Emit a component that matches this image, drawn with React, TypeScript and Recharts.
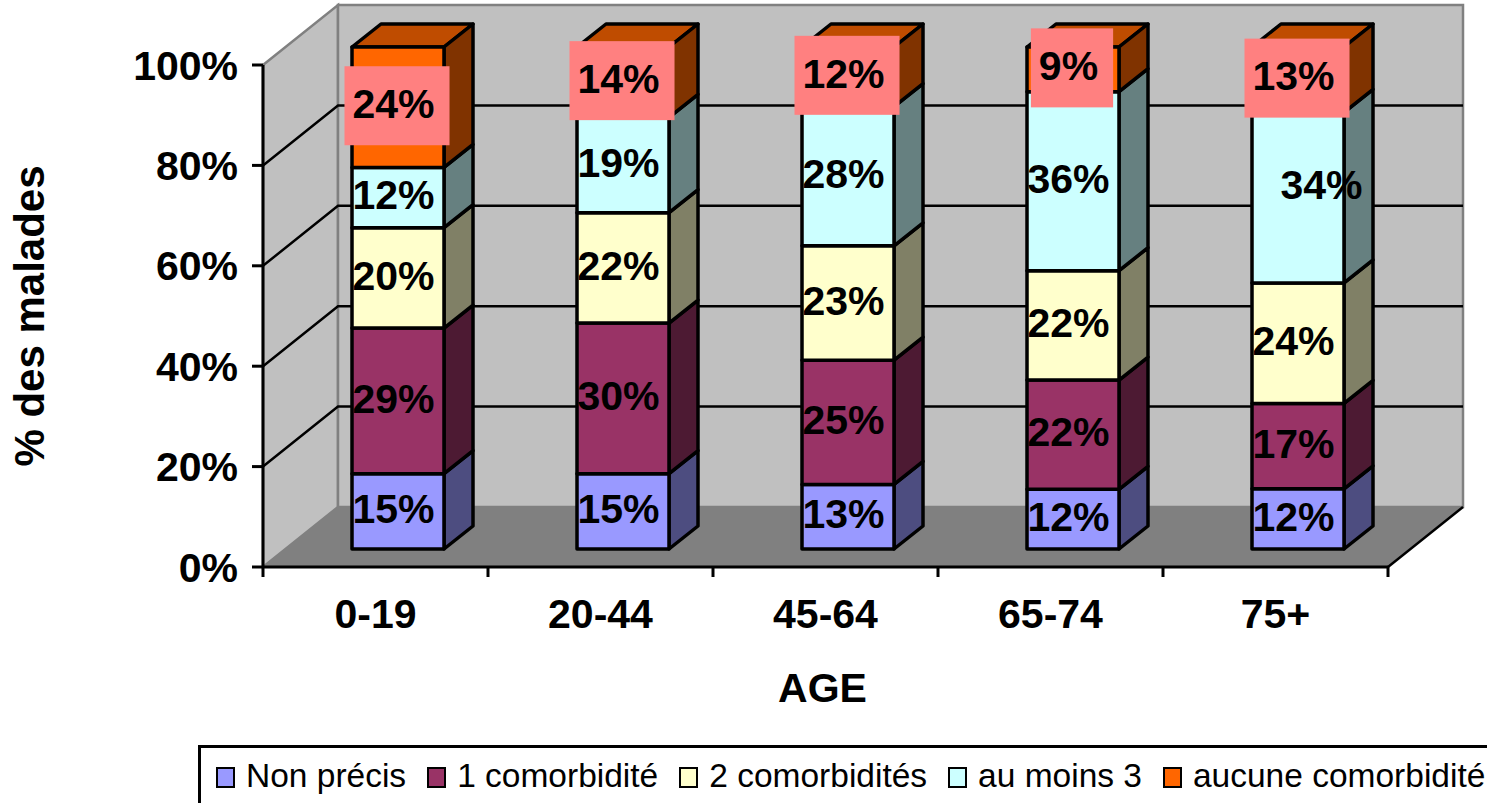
import React from "react";
import {
  Bar,
  BarChart,
  Customized,
  LabelList,
  Legend,
  XAxis,
  YAxis,
  usePlotArea,
} from "recharts";

const ageGroups = ["0-19", "20-44", "45-64", "65-74", "75+"];
const nonPrecis = [15, 15, 13, 12, 12];
const uneComorbidite = [29, 30, 25, 22, 17];
const deuxComorbidites = [20, 22, 23, 22, 24];
const auMoinsTrois = [12, 19, 28, 36, 34];
const aucuneComorbidite = [24, 14, 12, 9, 13];
const percentTicks = [0, 0.2, 0.4, 0.6, 0.8, 1];

const chartData = ageGroups.map((age, i) => ({
  age,
  nonPrecis: nonPrecis[i],
  uneComorbidite: uneComorbidite[i],
  deuxComorbidites: deuxComorbidites[i],
  auMoinsTrois: auMoinsTrois[i],
  aucuneComorbidite: aucuneComorbidite[i],
}));

const FONT = '"Liberation Sans", Arial, sans-serif';
const FONT_SIZE = 41;

// fake 3D: how far the back wall and the bars sit behind the axis plane
const WALL_DX = 75;
const WALL_DY = 60;
const BAR_DX = 22;
const BAR_DY = 18;
const BAR_DEPTH_X = 29;
const BAR_DEPTH_Y = 23;

const pts = (list: number[][]) => list.map((p) => p.join(",")).join(" ");

// walls, floor, gridlines and the category tick marks
const Backdrop = () => {
  const plot = usePlotArea();
  if (!plot) return null;
  const left = plot.x;
  const right = plot.x + plot.width;
  const top = plot.y;
  const bottom = plot.y + plot.height;
  const band = plot.width / ageGroups.length;
  return (
    <g>
      <polygon
        points={pts([
          [left, top],
          [left + WALL_DX, top - WALL_DY],
          [left + WALL_DX, bottom - WALL_DY],
          [left, bottom],
        ])}
        fill="#C0C0C0"
        stroke="#808080"
        strokeWidth={2.5}
      />
      <rect
        x={left + WALL_DX}
        y={top - WALL_DY}
        width={plot.width}
        height={plot.height}
        fill="#C0C0C0"
        stroke="#808080"
        strokeWidth={2.5}
      />
      <polygon
        points={pts([
          [left, bottom],
          [right, bottom],
          [right + WALL_DX, bottom - WALL_DY],
          [left + WALL_DX, bottom - WALL_DY],
        ])}
        fill="#808080"
      />
      <line
        x1={right}
        y1={bottom}
        x2={right + WALL_DX}
        y2={bottom - WALL_DY}
        stroke="#000"
        strokeWidth={2.5}
      />
      {percentTicks
        .filter((t) => t > 0 && t < 1)
        .map((t) => {
          const y = bottom - t * plot.height;
          return (
            <polyline
              key={t}
              points={pts([
                [left, y],
                [left + WALL_DX, y - WALL_DY],
                [right + WALL_DX, y - WALL_DY],
              ])}
              fill="none"
              stroke="#000"
              strokeWidth={2.5}
            />
          );
        })}
      {[0, 1, 2, 3, 4, 5].map((i) => (
        <line
          key={i}
          x1={left + i * band}
          y1={bottom}
          x2={left + i * band}
          y2={bottom + 10}
          stroke="#000"
          strokeWidth={3}
        />
      ))}
    </g>
  );
};

// a bar segment drawn as a box: front, side and optional top face
const makeBox = (side: string, topFace?: string) => (props: any) => {
  const { x, y, width, height, fill } = props;
  const fx = x + BAR_DX;
  const fy = y - BAR_DY;
  const dx = BAR_DEPTH_X;
  const dy = BAR_DEPTH_Y;
  return (
    <g stroke="#000" strokeWidth={3.5} strokeLinejoin="round">
      {topFace && (
        <polygon
          points={pts([
            [fx, fy],
            [fx + dx, fy - dy],
            [fx + width + dx, fy - dy],
            [fx + width, fy],
          ])}
          fill={topFace}
        />
      )}
      <polygon
        points={pts([
          [fx + width, fy],
          [fx + width + dx, fy - dy],
          [fx + width + dx, fy + height - dy],
          [fx + width, fy + height],
        ])}
        fill={side}
      />
      <rect x={fx} y={fy} width={width} height={height} fill={fill} />
    </g>
  );
};

const makeLabel =
  (highlight: boolean, nudge?: { index: number; dx: number; dy: number }) =>
  (props: any) => {
    const { value, index } = props;
    const box = props.viewBox ?? props;
    const shift = nudge && nudge.index === index ? nudge : { dx: 0, dy: 0 };
    const cx = box.x + BAR_DX + box.width / 2 - 4.5 + shift.dx;
    const cy = box.y - BAR_DY + box.height / 2 + shift.dy;
    const text = `${value}%`;
    // pink tag sized from the text width (Arial bold metrics)
    const textWidth = (text.length === 2 ? 1.445 : 2.001) * FONT_SIZE;
    return (
      <g>
        {highlight && (
          <rect
            x={cx - textWidth / 2 - 8}
            y={cy - 41}
            width={textWidth + 23}
            height={79}
            fill="#FF8080"
          />
        )}
        <text
          x={cx}
          y={highlight ? cy - 4 : cy - 3}
          dy="0.36em"
          textAnchor="middle"
          fontFamily={FONT}
          fontSize={FONT_SIZE}
          fontWeight="bold"
          fill="#000"
        >
          {text}
        </text>
      </g>
    );
  };

const LegendBox = ({ payload }: any) => (
  <div
    style={{
      boxSizing: "border-box",
      width: 1300,
      height: 70,
      border: "3px solid #000",
      background: "#fff",
      display: "flex",
      alignItems: "flex-start",
      paddingLeft: 15,
      paddingTop: 9,
      fontFamily: FONT,
      fontSize: 33.5,
      lineHeight: "38px",
      color: "#000",
      whiteSpace: "nowrap",
    }}
  >
    {(payload ?? []).map((item: any) => (
      <span
        key={item.value}
        style={{ display: "flex", alignItems: "center", marginRight: 21 }}
      >
        <span
          style={{
            boxSizing: "border-box",
            width: 19,
            height: 21,
            border: "2.5px solid #000",
            background: item.color,
            marginRight: 11,
            marginTop: 3,
          }}
        />
        {item.value}
      </span>
    ))}
  </div>
);

const axisTick = {
  fontFamily: FONT,
  fontSize: FONT_SIZE,
  fontWeight: "bold",
  fill: "#000",
};
const axisLine = { stroke: "#000", strokeWidth: 3 };

export default function App() {
  return (
    <div
      style={{
        position: "absolute",
        left: 0,
        top: 0,
        width: 1487,
        height: 803,
        overflow: "hidden",
        background: "#fff",
      }}
    >
      <BarChart
        width={1487}
        height={803}
        data={chartData}
        stackOffset="expand"
        barSize={92}
        margin={{ top: 65, right: 99, bottom: 106, left: 63 }}
      >
        <Customized component={<Backdrop />} />
        <XAxis
          dataKey="age"
          height={60}
          tick={axisTick}
          tickLine={false}
          axisLine={axisLine}
          tickSize={0}
          tickMargin={32}
          interval={0}
          label={{
            value: "AGE",
            position: "bottom",
            offset: 46,
            dx: -3,
            style: { ...axisTick },
          }}
        />
        <YAxis
          type="number"
          width={200}
          domain={[0, 1]}
          ticks={percentTicks}
          tickFormatter={(v: number) => `${Math.round(v * 100)}%`}
          tick={axisTick}
          tickLine={axisLine}
          axisLine={axisLine}
          tickSize={11}
          tickMargin={14}
          label={{
            value: "% des malades",
            angle: -90,
            position: "left",
            offset: 34,
            style: { ...axisTick, fontSize: 42, textAnchor: "middle" },
          }}
        />
        <Legend
          content={<LegendBox />}
          itemSorter={null}
          wrapperStyle={{ left: 198, top: 745, width: 1300, height: 70, bottom: "auto" }}
        />
        <Bar
          dataKey="nonPrecis"
          name="Non précis"
          stackId="a"
          fill="#9999FF"
          shape={makeBox("#4D4D80")}
          isAnimationActive={false}
        >
          <LabelList dataKey="nonPrecis" content={makeLabel(false)} />
        </Bar>
        <Bar
          dataKey="uneComorbidite"
          name="1 comorbidité"
          stackId="a"
          fill="#993366"
          shape={makeBox("#4D1A33")}
          isAnimationActive={false}
        >
          <LabelList dataKey="uneComorbidite" content={makeLabel(false)} />
        </Bar>
        <Bar
          dataKey="deuxComorbidites"
          name="2 comorbidités"
          stackId="a"
          fill="#FFFFCC"
          shape={makeBox("#808066")}
          isAnimationActive={false}
        >
          <LabelList dataKey="deuxComorbidites" content={makeLabel(false)} />
        </Bar>
        <Bar
          dataKey="auMoinsTrois"
          name="au moins 3"
          stackId="a"
          fill="#CCFFFF"
          shape={makeBox("#668080")}
          isAnimationActive={false}
        >
          <LabelList
            dataKey="auMoinsTrois"
            content={makeLabel(false, { index: 4, dx: 28, dy: -10 })}
          />
        </Bar>
        <Bar
          dataKey="aucuneComorbidite"
          name="aucune comorbidité"
          stackId="a"
          fill="#FF6600"
          shape={makeBox("#803300", "#BF4C00")}
          isAnimationActive={false}
        >
          <LabelList dataKey="aucuneComorbidite" content={makeLabel(true)} />
        </Bar>
      </BarChart>
    </div>
  );
}
